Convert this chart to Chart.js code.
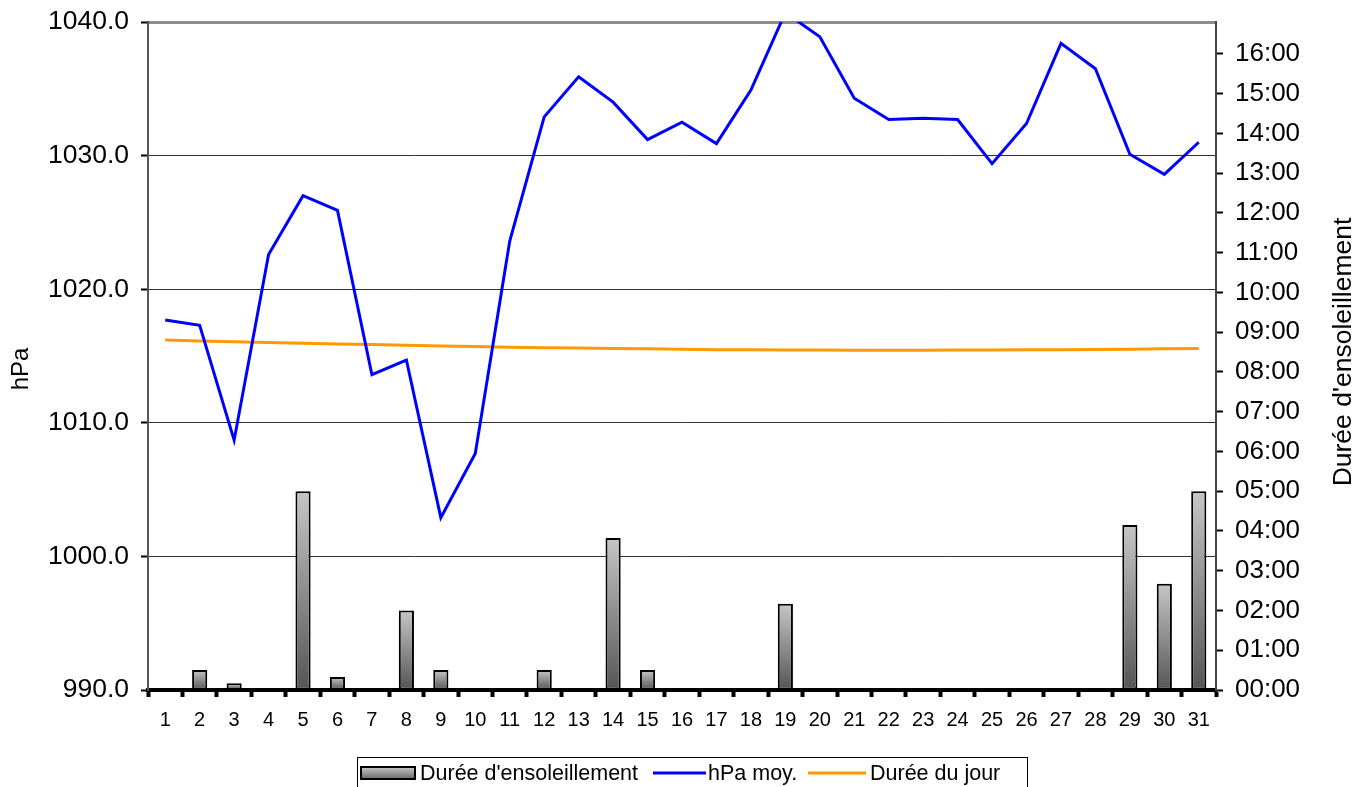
<!DOCTYPE html>
<html>
<head>
<meta charset="utf-8">
<script src="https://cdn.jsdelivr.net/npm/chart.js@4.4.1/dist/chart.umd.min.js"></script>
<style>
  html, body { margin: 0; padding: 0; background: #fff; }
  canvas { display: block; }
</style>
</head>
<body>
<canvas id="myChart" width="1371" height="787"></canvas>
<script>
const days = ['1', '2', '3', '4', '5', '6', '7', '8', '9', '10', '11', '12', '13', '14', '15', '16',
  '17', '18', '19', '20', '21', '22', '23', '24', '25', '26', '27', '28', '29', '30', '31'];

// hPa moy.
const pressure = [1017.7, 1017.3, 1008.7, 1022.6, 1027.0, 1025.9, 1013.6, 1014.7, 1002.9, 1007.7,
  1023.6, 1032.9, 1035.9, 1034.0, 1031.2, 1032.5, 1030.9, 1034.9, 1040.7, 1038.9,
  1034.3, 1032.7, 1032.8, 1032.7, 1029.4, 1032.4, 1038.4, 1036.5, 1030.1, 1028.6, 1031.0];

// Durée d'ensoleillement, in hours
const sunshine = [0, 0.5, 0.17, 0, 5.0, 0.33, 0, 2.0, 0.5, 0, 0, 0.5, 0, 3.82, 0.5, 0,
  0, 0, 2.17, 0, 0, 0, 0, 0, 0, 0, 0, 0, 4.15, 2.67, 5.0];

// Durée du jour, in hours
const dayLength = [8.80, 8.78, 8.76, 8.74, 8.72, 8.70, 8.69, 8.67, 8.65, 8.64, 8.62, 8.61, 8.60,
  8.59, 8.58, 8.57, 8.56, 8.555, 8.55, 8.55, 8.545, 8.545, 8.545, 8.55, 8.55, 8.555,
  8.56, 8.565, 8.57, 8.58, 8.59];

const leftTicks = [990, 1000, 1010, 1020, 1030, 1040];
const rightTicks = [0, 1, 2, 3, 4, 5, 6, 7, 8, 9, 10, 11, 12, 13, 14, 15, 16];

const FONT = "'Liberation Sans', Arial, sans-serif";

// grey gradient per bar, light on top and dark at the base
function barFill(context) {
  const chart = context.chart;
  if (!chart.chartArea || !chart.scales.y2) return '#888';
  const axis = chart.scales.y2;
  const top = axis.getPixelForValue(context.raw || 0);
  const bottom = axis.getPixelForValue(0);
  if (bottom - top < 1) return '#666';
  const g = chart.ctx.createLinearGradient(0, top, 0, bottom);
  g.addColorStop(0, '#c6c6c6');
  g.addColorStop(1, '#555555');
  return g;
}

// keep the plot area where Excel put it: fixed width, no label padding on top
function fixWidth(w) {
  return (axis) => {
    axis.width = w;
    axis.paddingTop = 0;
    axis.paddingBottom = 0;
  };
}

// axis titles, both read from bottom to top as in Excel
const axisTitles = {
  id: 'axis_titles',
  afterDraw: (chart) => {
    const ctx = chart.ctx;
    ctx.save();
    ctx.fillStyle = '#000';
    ctx.textAlign = 'center';
    ctx.textBaseline = 'middle';
    ctx.font = '24px ' + FONT;
    ctx.translate(21, 369);
    ctx.rotate(-Math.PI / 2);
    ctx.fillText('hPa', 0, 0);
    ctx.restore();

    ctx.save();
    ctx.fillStyle = '#000';
    ctx.textAlign = 'center';
    ctx.textBaseline = 'middle';
    ctx.font = '26.5px ' + FONT;
    ctx.translate(1344, 352);
    ctx.rotate(-Math.PI / 2);
    ctx.fillText("Durée d'ensoleillement", 0, 0);
    ctx.restore();
  },
};

// hand drawn legend with a frame, like the Excel one
const boxedLegend = {
  id: 'boxed_legend',
  afterDraw: (chart) => {
    const ctx = chart.ctx;
    ctx.save();
    ctx.font = '21.5px ' + FONT;
    ctx.textBaseline = 'middle';
    const y = 773;
    const items = [
      { text: "Durée d'ensoleillement", kind: 'bar', x0: 361, x1: 415, tx: 420 },
      { text: 'hPa moy.', kind: 'line', color: '#0000ff', x0: 653, x1: 706, tx: 708 },
      { text: 'Durée du jour', kind: 'line', color: '#ff9900', x0: 808, x1: 866, tx: 870 },
    ];
    items.forEach((it) => {
      if (it.kind === 'bar') {
        const g = ctx.createLinearGradient(0, y - 6, 0, y + 6);
        g.addColorStop(0, '#c6c6c6');
        g.addColorStop(1, '#6a6a6a');
        ctx.fillStyle = g;
        ctx.fillRect(it.x0, y - 6, it.x1 - it.x0, 12);
        ctx.lineWidth = 2;
        ctx.strokeStyle = '#000';
        ctx.strokeRect(it.x0, y - 6, it.x1 - it.x0, 12);
      } else {
        ctx.strokeStyle = it.color;
        ctx.lineWidth = 3;
        ctx.beginPath();
        ctx.moveTo(it.x0, y);
        ctx.lineTo(it.x1, y);
        ctx.stroke();
      }
      ctx.fillStyle = '#000';
      ctx.fillText(it.text, it.tx, y + 1);
    });
    ctx.lineWidth = 1;
    ctx.strokeStyle = '#000';
    ctx.strokeRect(357.5, 757.5, 670, 34);
    ctx.restore();
  },
};

const ctx = document.getElementById('myChart').getContext('2d');
new Chart(ctx, {
  data: {
    labels: days,
    datasets: [
      {
        type: 'line',
        label: 'hPa moy.',
        data: pressure,
        yAxisID: 'y',
        borderColor: '#0000ff',
        borderWidth: 3,
        pointRadius: 0,
        tension: 0,
        fill: false,
        order: 1,
      },
      {
        type: 'line',
        label: 'Durée du jour',
        data: dayLength,
        yAxisID: 'y2',
        borderColor: '#ff9900',
        borderWidth: 3,
        pointRadius: 0,
        tension: 0,
        fill: false,
        order: 2,
      },
      {
        type: 'bar',
        label: "Durée d'ensoleillement",
        data: sunshine,
        yAxisID: 'y2',
        backgroundColor: barFill,
        borderColor: '#000',
        borderWidth: 2,
        borderSkipped: false,
        categoryPercentage: 1.0,
        barPercentage: 0.44,
        order: 3,
      },
    ],
  },
  options: {
    responsive: false,
    animation: false,
    layout: { padding: { top: 22, bottom: 47, left: 0, right: 0 } },
    plugins: {
      legend: { display: false },
      tooltip: { enabled: false },
    },
    scales: {
      x: {
        type: 'category',
        offset: true,
        z: 1,
        afterFit: (axis) => { axis.height = 50; },
        grid: {
          offset: true,
          drawOnChartArea: false,
          drawTicks: true,
          tickLength: 7,
          tickColor: '#000',
          tickWidth: 4,
        },
        border: { display: true, color: '#000', width: 4 },
        ticks: {
          font: { size: 20, family: FONT },
          color: '#000',
          padding: 11,
          maxRotation: 0,
          autoSkip: false,
        },
      },
      y: {
        position: 'left',
        min: 990,
        max: 1040,
        afterBuildTicks: (axis) => { axis.ticks = leftTicks.map((v) => ({ value: v })); },
        afterFit: fixWidth(148),
        ticks: {
          callback: (v) => Number(v).toFixed(1),
          font: { size: 26.5, family: FONT },
          color: '#000',
          padding: 12,
        },
        grid: {
          color: (c) => (c.tick && c.tick.value === 1040 ? '#8c8c8c' : '#333'),
          lineWidth: (c) => (c.tick && c.tick.value === 1040 ? 3 : 1),
          tickColor: '#000',
          tickWidth: 2,
          tickLength: 7,
        },
        border: { color: '#555', width: 2 },
      },
      y2: {
        position: 'right',
        min: 0,
        max: 16.8,
        afterBuildTicks: (axis) => { axis.ticks = rightTicks.map((v) => ({ value: v })); },
        afterFit: fixWidth(155),
        ticks: {
          callback: (v) => String(v).padStart(2, '0') + ':00',
          font: { size: 26, family: FONT },
          color: '#000',
          padding: 12,
        },
        grid: {
          drawOnChartArea: false,
          tickColor: '#000',
          tickWidth: 2,
          tickLength: 7,
        },
        border: { color: '#444', width: 2 },
      },
    },
  },
  plugins: [axisTitles, boxedLegend],
});
</script>
</body>
</html>
